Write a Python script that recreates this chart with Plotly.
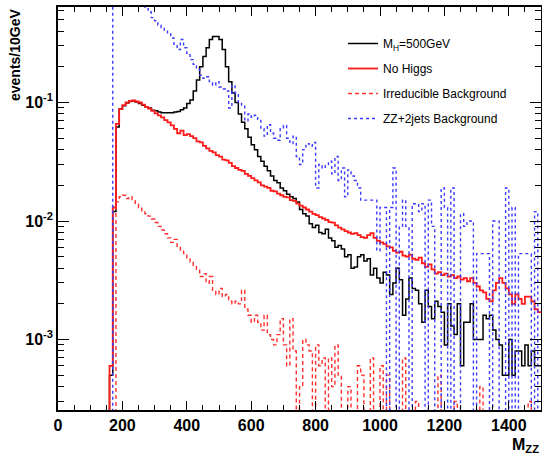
import plotly.graph_objects as go

# ---------------- data (10 GeV bins, lower edges 160 ... 1490 GeV) ----------------
bin_low = list(range(160, 1500, 10))
x_max = 1500

mh500 = [
    0.0005, 0.012, 0.062, 0.088,
    0.094, 0.099, 0.102, 0.103, 0.101, 0.098, 0.095, 0.092, 0.090, 0.086,
    0.085, 0.083, 0.082, 0.082, 0.082, 0.082, 0.083, 0.084, 0.087, 0.090,
    0.098, 0.105, 0.125, 0.155, 0.20, 0.245, 0.29, 0.34, 0.36, 0.36,
    0.34, 0.28, 0.20, 0.15, 0.12, 0.10, 0.08, 0.068, 0.060, 0.051,
    0.044, 0.040, 0.035, 0.032, 0.029, 0.0265, 0.024, 0.022, 0.021, 0.019,
    0.018, 0.0168, 0.016, 0.0155, 0.0145, 0.0125, 0.0115, 0.011, 0.0095, 0.0088,
    0.0092, 0.0080, 0.0078, 0.0085, 0.0072, 0.0068, 0.0060, 0.0062, 0.0058, 0.0050,
    0.0052, 0.0040, 0.0041, 0.0050, 0.0052, 0.0046, 0.0048, 0.0035, 0.0040, 0.0033,
    0.0030, 0.0037, 0.0035, 0.0024, 0.0030, 0.0040, 0.0032, 0.0016, 0.0022, 0.0033,
    0.0027, 0.0026, 0.0020, 0.0014, 0.0026, 0.0019, 0.0015, 0.0021, 0.0019, 0.0017,
    0.0009, 0.0020, 0.0013, 0.0011, 0.0020, 0.0006, 0.0014, 0.0014, 0.0020, 0.0010,
    0.0010, 0.0010, 0.0016, 0.0015, 0.0016, 0.0012, 0.0010, 0.0009, 0.0005, 0.0005,
    0.0010, 0.0005, 0.0008, 0.0008, 0.0006, 0.0009, 0.0006, 0.0008, 0.0006, 0.0006,
]

no_higgs = [
    0.0006, 0.013, 0.066, 0.088,
    0.095, 0.100, 0.103, 0.104, 0.102, 0.100, 0.096, 0.092, 0.089, 0.085,
    0.081, 0.078, 0.075, 0.071, 0.068, 0.064, 0.060, 0.055, 0.058, 0.053,
    0.054, 0.052, 0.050, 0.047, 0.046, 0.043, 0.041, 0.039, 0.038, 0.036,
    0.035, 0.033, 0.0325, 0.031, 0.029, 0.028, 0.027, 0.0265, 0.025, 0.024,
    0.023, 0.022, 0.0212, 0.020, 0.0195, 0.019, 0.018, 0.0178, 0.017, 0.0165,
    0.016, 0.0158, 0.015, 0.0148, 0.014, 0.0135, 0.013, 0.0125, 0.012, 0.0115,
    0.0112, 0.0108, 0.0105, 0.0102, 0.0098, 0.0097, 0.0092, 0.0088, 0.0085, 0.0082,
    0.0080, 0.0078, 0.0079, 0.0076, 0.0073, 0.0072, 0.0076, 0.0079, 0.0072, 0.0068,
    0.0066, 0.0064, 0.0061, 0.0060, 0.0056, 0.0054, 0.0055, 0.0051, 0.0050, 0.0052,
    0.0048, 0.0047, 0.0049, 0.0044, 0.0041, 0.0043, 0.0039, 0.0036, 0.0037, 0.0035,
    0.0036, 0.0034, 0.0035, 0.0033, 0.0034, 0.0032, 0.0033, 0.0031, 0.0033, 0.0030,
    0.0028, 0.0026, 0.0025, 0.0022, 0.0021, 0.0026, 0.0030, 0.0033, 0.0030, 0.0027,
    0.0024, 0.0020, 0.0024, 0.0022, 0.0020, 0.0023, 0.0023, 0.0021, 0.0018, 0.0017,
]

irreducible = [
    0, 0, 0.0145, 0.016,
    0.0165, 0.0155, 0.016, 0.0148, 0.0138, 0.013, 0.0122, 0.0115, 0.011, 0.0104,
    0.0097, 0.009, 0.0084, 0.0078, 0.0072, 0.0066, 0.0070, 0.0060, 0.0057, 0.0053,
    0.0049, 0.0045, 0.0042, 0.0039, 0.0034, 0.0036, 0.0030, 0.0034, 0.0026, 0.0024,
    0.0027, 0.0023, 0.0024, 0.0021, 0.0020, 0.0021, 0.0020, 0.0026, 0.0018, 0.0016,
    0.0014, 0.0016, 0.0014, 0.0012, 0.0016, 0.0011, 0.0010, 0.0009, 0.0011, 0.0015,
    0.0009, 0.0006, 0.0015, 0.0008, 0, 0.0004, 0.0010, 0.0009, 0.0008, 0,
    0.0009, 0.0006, 0.0007, 0, 0.0007, 0.0004, 0.0009, 0.0005, 0, 0,
    0.0004, 0, 0, 0.0006, 0.0005, 0, 0, 0.0007, 0, 0,
    0.0006, 0, 0.0005, 0, 0, 0, 0, 0.0007, 0, 0,
    0, 0.0003, 0, 0, 0, 0, 0, 0, 0.0005, 0,
    0, 0, 0, 0.0003, 0, 0, 0, 0, 0, 0,
    0, 0.0004, 0, 0, 0, 0, 0, 0, 0, 0,
    0, 0, 0, 0, 0, 0, 0.0003, 0, 0, 0,
]

zz_2jets = [
    0, 3.0, 3.0, 2.5,
    2.0, 1.6, 1.3, 1.1, 0.95, 0.82, 0.70, 0.62, 0.58, 0.52,
    0.49, 0.45, 0.43, 0.40, 0.38, 0.35, 0.31, 0.28, 0.34, 0.29,
    0.26, 0.23, 0.21, 0.19, 0.17, 0.16, 0.165, 0.15, 0.14, 0.15,
    0.135, 0.13, 0.125, 0.09, 0.14, 0.12, 0.10, 0.095, 0.07, 0.08,
    0.075, 0.078, 0.072, 0.06, 0.052, 0.065, 0.055, 0.05, 0.048, 0.06,
    0.064, 0.05, 0.045, 0.052, 0.035, 0.03, 0.04, 0.045, 0.043, 0.046,
    0.019, 0.03, 0.028, 0.03, 0.032, 0.025, 0.035, 0.022, 0.028, 0.016,
    0.027, 0.024, 0.022, 0.019, 0.015, 0.015, 0.015, 0.015, 0.015, 0.0056,
    0.013, 0.013, 0, 0.013, 0.028, 0, 0.009, 0.015, 0.009, 0,
    0.014, 0.014, 0.012, 0.014, 0, 0.015, 0.009, 0, 0, 0.019,
    0.013, 0, 0.019, 0, 0, 0.0115, 0.009, 0.010, 0.010, 0,
    0.0053, 0.0053, 0.0053, 0.0053, 0, 0.010, 0.010, 0, 0, 0.019,
    0, 0.013, 0, 0.0053, 0.0053, 0.0053, 0.0053, 0, 0.012, 0,
]

series_names = ["M<sub>H</sub>=500GeV", "No Higgs", "Irreducible Background", "ZZ+2jets Background"]
y_tick_vals = [1e-3, 1e-2, 1e-1]
y_tick_text = ["10<sup>-3</sup>", "10<sup>-2</sup>", "10<sup>-1</sup>"]

# ---------------- figure ----------------
FLOOR = 1e-9  # empty bins drawn down below the axis (log scale)


def step_xy(vals):
    xs = [bin_low[0]] + bin_low + [x_max]
    ys = [FLOOR] + [v if v > 0 else FLOOR for v in vals] + [vals[-1] if vals[-1] > 0 else FLOOR]
    return xs, ys


styles = [
    dict(color="black", width=1.5, dash="solid"),
    dict(color="#ff1a1a", width=1.8, dash="solid"),
    dict(color="#ff3030", width=1.4, dash="4px,3px"),
    dict(color="#3a3aff", width=1.4, dash="3px,3px"),
]

fig = go.Figure()
for i, (vals, name, st) in enumerate(zip([mh500, no_higgs, irreducible, zz_2jets], series_names, styles)):
    xs, ys = step_xy(vals)
    fig.add_trace(go.Scatter(
        x=xs, y=ys, mode="lines", name=name, line=dict(shape="hv", **st),
        legendgroup=f"g{i}",
    ))

minor_y = [m * 10 ** e for e in range(-4, 0) for m in range(2, 10)]

font_family = "Liberation Sans, Arial, Helvetica, sans-serif"

# plot area in pixels: x 58..541, y 7..410
L, R, T, B = 58, 541, 7, 410
W, H = R - L, B - T

fig.update_layout(
    width=542, height=455,
    margin=dict(l=L, r=542 - R, t=T, b=455 - B, autoexpand=False),
    paper_bgcolor="white", plot_bgcolor="white",
    font=dict(family=font_family, color="black"),
    showlegend=True,
    legend=dict(
        x=(343 - L) / W, y=(B - 29) / H, xanchor="left", yanchor="top",
        bgcolor="rgba(0,0,0,0)", borderwidth=0,
        font=dict(size=12, family=font_family, color="black"),
        tracegroupgap=6, traceorder="grouped",
    ),
    xaxis=dict(
        range=[0, x_max], tick0=0, dtick=200, tickangle=0,
        ticks="inside", ticklen=9, tickwidth=1, tickcolor="black",
        showline=True, linecolor="black", linewidth=1.5, mirror="ticks",
        showgrid=False, zeroline=False,
        tickfont=dict(size=16, weight="bold", family=font_family),
        minor=dict(dtick=50, tick0=0, ticks="inside", ticklen=5, tickcolor="black", showgrid=False),
    ),
    yaxis=dict(
        type="log", range=[-3.595, -0.194],
        tickmode="array", tickvals=y_tick_vals, ticktext=y_tick_text,
        ticks="inside", ticklen=11, tickwidth=1, tickcolor="black",
        showline=True, linecolor="black", linewidth=1.5, mirror="ticks",
        showgrid=False, zeroline=False,
        tickfont=dict(size=16, weight="bold", family=font_family),
        minor=dict(tickmode="array", tickvals=minor_y, ticks="inside", ticklen=6,
                   tickcolor="black", showgrid=False),
    ),
    annotations=[
        dict(text="events/10GeV", xref="paper", yref="paper",
             x=(15 - L) / W, y=1.0, xanchor="center", yanchor="top",
             textangle=-90, showarrow=False,
             font=dict(size=14, weight="bold", family=font_family)),
        dict(text="M<sub>ZZ</sub>", xref="paper", yref="paper",
             x=1.0, y=(B - 457) / H, xanchor="right", yanchor="bottom",
             showarrow=False,
             font=dict(size=16, weight="bold", family=font_family)),
    ],
)

fig.write_html("out.html")
